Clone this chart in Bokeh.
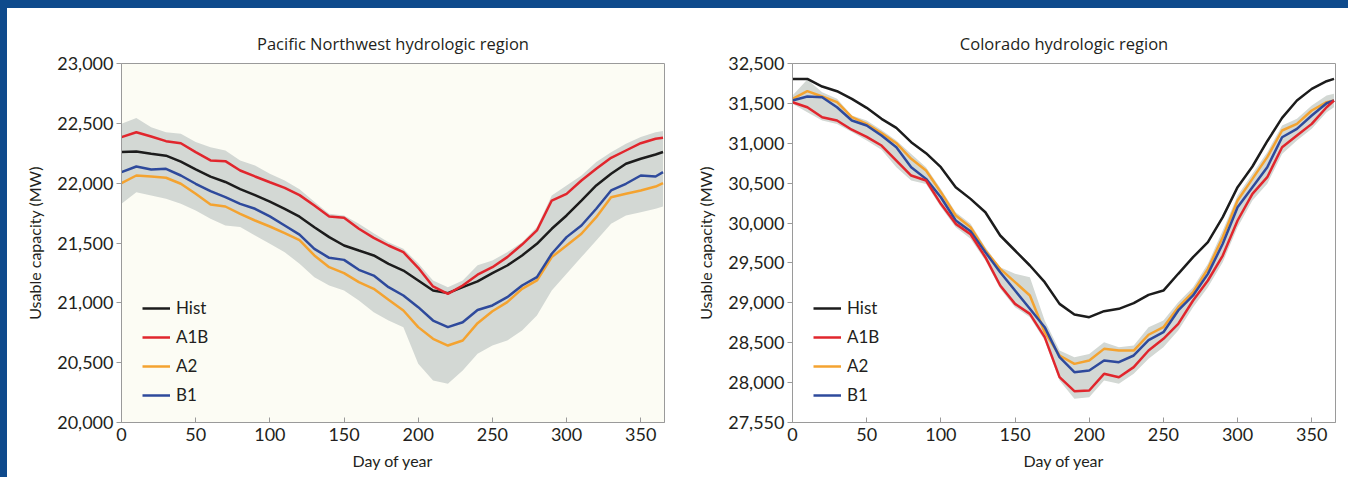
from bokeh.plotting import figure
from bokeh.models import Range1d, FixedTicker, NumeralTickFormatter, Legend, LegendItem
from bokeh.layouts import row, column
from bokeh.embed import file_html
from bokeh.resources import INLINE

# Day of year sampled every 10 days
days = [0, 10, 20, 30, 40, 50, 60, 70, 80, 90, 100, 110, 120, 130, 140, 150, 160, 170,
        180, 190, 200, 210, 220, 230, 240, 250, 260, 270, 280, 290, 300, 310, 320, 330,
        340, 350, 360, 365]

# Pacific Northwest hydrologic region, usable capacity (MW)
pnw_hist = [22260, 22265, 22245, 22230, 22180, 22115, 22055, 22010, 21950, 21900, 21845,
            21785, 21720, 21632, 21549, 21479, 21437, 21396, 21326, 21270, 21187, 21103,
            21081, 21131, 21180, 21248, 21312, 21396, 21493, 21619, 21730, 21855, 21981,
            22078, 22162, 22204, 22240, 22260]
pnw_a1b = [22385, 22426, 22390, 22351, 22334, 22259, 22190, 22184, 22106, 22056, 22008,
           21961, 21900, 21813, 21722, 21711, 21619, 21543, 21479, 21423, 21293, 21137,
           21075, 21145, 21235, 21298, 21382, 21487, 21605, 21855, 21911, 22022, 22120,
           22212, 22273, 22334, 22371, 22379]
pnw_a2 = [22000, 22064, 22056, 22045, 21995, 21911, 21822, 21805, 21744, 21688, 21638,
          21582, 21524, 21396, 21298, 21248, 21173, 21117, 21025, 20936, 20797, 20699,
          20643, 20685, 20830, 20930, 21006, 21117, 21187, 21382, 21479, 21577, 21716,
          21883, 21911, 21939, 21972, 22000]
pnw_b1 = [22092, 22139, 22114, 22120, 22064, 21995, 21933, 21883, 21827, 21786, 21722,
          21646, 21570, 21451, 21376, 21359, 21276, 21228, 21131, 21061, 20964, 20852,
          20797, 20838, 20940, 20978, 21047, 21145, 21215, 21410, 21549, 21646, 21786,
          21939, 21995, 22064, 22056, 22092]
pnw_upper = [22496, 22545, 22468, 22426, 22412, 22343, 22301, 22273, 22190, 22148, 22078,
             22022, 21950, 21844, 21744, 21730, 21660, 21582, 21507, 21451, 21331, 21187,
             21131, 21187, 21315, 21354, 21423, 21507, 21633, 21897, 21981, 22064, 22176,
             22259, 22329, 22385, 22426, 22435]
pnw_lower = [21827, 21925, 21897, 21869, 21827, 21772, 21702, 21646, 21633, 21563, 21493,
             21423, 21326, 21214, 21145, 21103, 21020, 20922, 20852, 20797, 20490, 20351,
             20323, 20435, 20574, 20643, 20685, 20769, 20894, 21103, 21242, 21382, 21521,
             21660, 21730, 21758, 21786, 21805]

# Colorado hydrologic region, usable capacity (MW)
col_hist = [31807, 31807, 31711, 31653, 31557, 31444, 31306, 31193, 31014, 30876, 30700,
            30450, 30303, 30136, 29844, 29656, 29468, 29259, 28987, 28854, 28820, 28895,
            28925, 28996, 29100, 29154, 29364, 29572, 29760, 30074, 30450, 30709, 31026,
            31318, 31536, 31682, 31778, 31807]
col_a1b = [31515, 31452, 31327, 31285, 31170, 31080, 30972, 30784, 30596, 30533, 30241,
           29990, 29860, 29572, 29217, 28987, 28862, 28570, 28068, 27893, 27901, 28110,
           28068, 28194, 28402, 28549, 28737, 29029, 29280, 29593, 30032, 30366, 30575,
           30951, 31097, 31243, 31452, 31536]
col_a2 = [31557, 31653, 31586, 31515, 31327, 31243, 31127, 31001, 30805, 30659, 30387,
          30095, 29948, 29656, 29426, 29259, 29092, 28632, 28340, 28235, 28277, 28423,
          28402, 28402, 28600, 28695, 28945, 29133, 29426, 29823, 30283, 30554, 30826,
          31160, 31243, 31411, 31515, 31536]
col_b1 = [31536, 31586, 31578, 31452, 31285, 31223, 31097, 30951, 30700, 30554, 30324,
          30032, 29897, 29635, 29384, 29154, 28925, 28695, 28319, 28131, 28152, 28277,
          28256, 28340, 28532, 28632, 28904, 29092, 29363, 29740, 30199, 30450, 30700,
          31076, 31181, 31348, 31502, 31536]
col_upper = [31599, 31800, 31640, 31557, 31348, 31285, 31168, 31035, 30867, 30700, 30428,
             30136, 29990, 29697, 29447, 29364, 29322, 28778, 28402, 28319, 28360, 28507,
             28444, 28465, 28695, 28778, 29008, 29196, 29489, 29906, 30345, 30617, 30889,
             31222, 31306, 31474, 31599, 31620]
col_lower = [31494, 31390, 31285, 31243, 31140, 31035, 30919, 30700, 30533, 30491, 30200,
             29948, 29802, 29530, 29175, 28945, 28820, 28528, 28026, 27797, 27818, 28026,
             27985, 28110, 28300, 28444, 28653, 28945, 29196, 29510, 29948, 30283, 30492,
             30867, 31035, 31181, 31390, 31452]

x_ticks = [0, 50, 100, 150, 200, 250, 300, 350]
pnw_y_ticks = [20000, 20500, 21000, 21500, 22000, 22500, 23000]
col_y_ticks = [27500, 28000, 28500, 29000, 29500, 30000, 30500, 31000, 31500, 32000]
col_y_overrides = {32000: "32,500", 27500: "27,550"}

series_names = ["Hist", "A1B", "A2", "B1"]
colors = {"Hist": "#1c1c1c", "A1B": "#e1262d", "A2": "#f4a330", "B1": "#2e4a9c"}
BAND = "#d3d8d4"
TEXT = "#231f20"
AXIS = "#9a9a9a"
FONT = "Lato"
BLUE = "#0e4a8c"


def make_panel(title, y_range, y_ticks, series, upper, lower, bg, overrides=None):
    p = figure(frame_width=543, frame_height=359, output_backend="svg",
               toolbar_location=None, x_range=Range1d(0, 366), y_range=y_range,
               min_border_left=114, min_border_right=15, min_border_top=55,
               min_border_bottom=55, background_fill_color=bg,
               border_fill_color="white", outline_line_color=AXIS)
    p.title.text = title
    p.title.align = "center"
    p.title.text_font = "Open Sans"
    p.title.text_font_size = "16.5px"
    p.title.text_font_style = "normal"
    p.title.text_color = TEXT
    p.title.standoff = 17
    p.grid.visible = False

    p.varea(x=days, y1=lower, y2=upper, fill_color=BAND)
    renderers = {}
    for name in ["Hist", "A2", "B1", "A1B"]:
        renderers[name] = p.line(days, series[name], line_color=colors[name],
                                 line_width=2.5)

    xa = p.xaxis[0]
    xa.ticker = FixedTicker(ticks=x_ticks)
    xa.axis_label = "Day of year"
    xa.major_tick_in = 5
    xa.major_tick_out = 0
    xa.major_label_standoff = 5
    xa.axis_label_standoff = 7

    ya = p.yaxis[0]
    ya.ticker = FixedTicker(ticks=y_ticks)
    ya.formatter = NumeralTickFormatter(format="0,0")
    if overrides:
        ya.major_label_overrides = overrides
    ya.axis_label = "Usable capacity (MW)"
    ya.major_tick_in = 0
    ya.major_tick_out = 5
    ya.major_label_standoff = 3
    ya.axis_label_standoff = 10

    for ax in (xa, ya):
        ax.minor_tick_line_color = None
        ax.axis_line_color = AXIS
        ax.major_tick_line_color = AXIS
        ax.major_label_text_font = FONT
        ax.major_label_text_font_size = "18px"
        ax.major_label_text_color = TEXT
        ax.axis_label_text_font = FONT
        ax.axis_label_text_font_size = "16px"
        ax.axis_label_text_font_style = "normal"
        ax.axis_label_text_color = TEXT

    legend = Legend(items=[LegendItem(label=n, renderers=[renderers[n]]) for n in series_names],
                    location=(21, 17), background_fill_alpha=0, border_line_alpha=0,
                    glyph_width=28, glyph_height=20, label_height=20, spacing=8,
                    padding=0, margin=0, label_standoff=6,
                    label_text_font=FONT, label_text_font_size="17px",
                    label_text_color=TEXT)
    p.add_layout(legend)
    return p


p1 = make_panel("Pacific Northwest hydrologic region", Range1d(20000, 23000), pnw_y_ticks,
                {"Hist": pnw_hist, "A1B": pnw_a1b, "A2": pnw_a2, "B1": pnw_b1},
                pnw_upper, pnw_lower, "#fcfcf4")
p2 = make_panel("Colorado hydrologic region", Range1d(27500, 32000), col_y_ticks,
                {"Hist": col_hist, "A1B": col_a1b, "A2": col_a2, "B1": col_b1},
                col_upper, col_lower, "#ffffff", overrides=col_y_overrides)
p2.min_border_left = 113
p2.min_border_right = 13

# white panel holding both charts; blue edge along the top and left only
panel = row(p1, p2, styles={"background-color": "white"}, margin=(8, 0, 0, 7))
page = column(panel, styles={
    "width": "1348px", "height": "477px", "overflow": "hidden",
    "background": (f"linear-gradient({BLUE}, {BLUE}) top left / 100% 8px no-repeat, "
                   f"linear-gradient({BLUE}, {BLUE}) top left / 7px 100% no-repeat, white")})

open("out.html", "w").write(file_html(page, INLINE))
